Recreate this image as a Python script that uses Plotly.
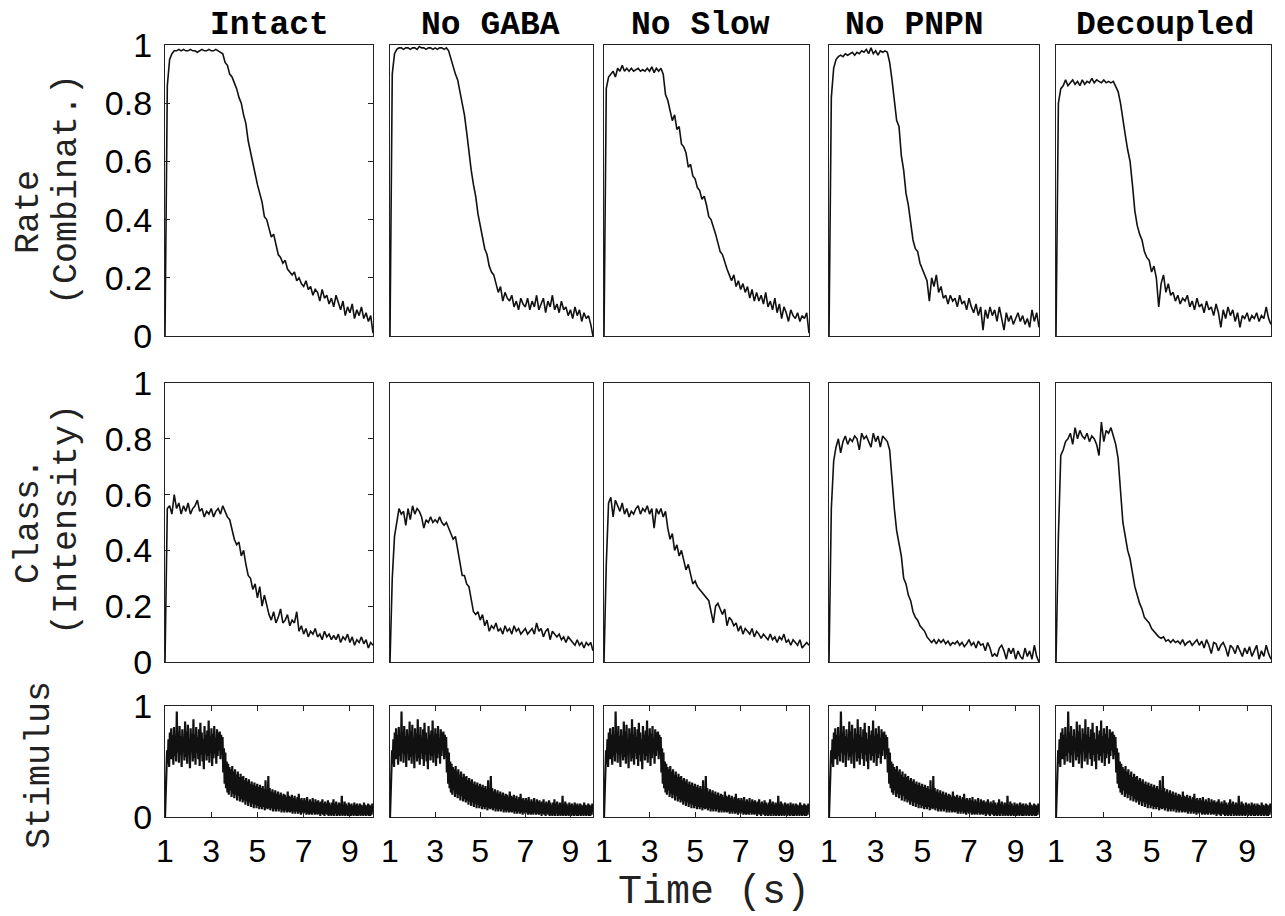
import plotly.graph_objects as go

# sampling grids (s)
TIME = [round(1 + 0.1 * i, 1) for i in range(91)]
STIM_TIME = [round(1 + 0.03 * i, 2) for i in range(301)]

PANELS = ["Intact", "No GABA", "No Slow", "No PNPN", "Decoupled"]

# row 1: Rate (Combinat.)
RATE_INTACT = [
    0.00, 0.86, 0.95, 0.97, 0.98, 0.98, 0.985, 0.98, 0.985, 0.98,
    0.98, 0.985, 0.98, 0.98, 0.975, 0.98, 0.985, 0.98, 0.98, 0.985,
    0.98, 0.98, 0.985, 0.98, 0.975, 0.97, 0.94, 0.93, 0.90, 0.89,
    0.87, 0.85, 0.82, 0.80, 0.76, 0.73, 0.67, 0.63, 0.60, 0.56,
    0.52, 0.49, 0.46, 0.41, 0.40, 0.37, 0.34, 0.35, 0.31, 0.28,
    0.27, 0.25, 0.26, 0.23, 0.22, 0.21, 0.22, 0.19, 0.20, 0.18,
    0.17, 0.19, 0.16, 0.17, 0.14, 0.16, 0.15, 0.12, 0.16, 0.13,
    0.14, 0.11, 0.13, 0.10, 0.14, 0.11, 0.09, 0.12, 0.07, 0.10,
    0.08, 0.11, 0.06, 0.09, 0.07, 0.10, 0.06, 0.08, 0.05, 0.07,
    0.01]
RATE_NO_GABA = [
    0.00, 0.90, 0.97, 0.985, 0.99, 0.99, 0.985, 0.99, 0.99, 0.985,
    0.99, 0.99, 0.985, 0.995, 0.99, 0.99, 0.985, 0.99, 0.99, 0.985,
    0.99, 0.985, 0.99, 0.99, 0.985, 0.99, 0.98, 0.95, 0.93, 0.90,
    0.88, 0.84, 0.79, 0.76, 0.70, 0.63, 0.57, 0.52, 0.48, 0.42,
    0.38, 0.34, 0.30, 0.28, 0.24, 0.22, 0.21, 0.18, 0.15, 0.17,
    0.12, 0.15, 0.13, 0.12, 0.14, 0.10, 0.12, 0.09, 0.13, 0.11,
    0.10, 0.13, 0.09, 0.12, 0.10, 0.14, 0.09, 0.11, 0.13, 0.08,
    0.12, 0.10, 0.14, 0.09, 0.11, 0.08, 0.12, 0.09, 0.10, 0.07,
    0.09, 0.06, 0.10, 0.07, 0.09, 0.05, 0.08, 0.06, 0.07, 0.04,
    0.00]
RATE_NO_SLOW = [
    0.00, 0.85, 0.89, 0.90, 0.91, 0.89, 0.92, 0.91, 0.93, 0.91,
    0.92, 0.91, 0.92, 0.91, 0.915, 0.92, 0.91, 0.915, 0.91, 0.92,
    0.91, 0.925, 0.905, 0.92, 0.91, 0.92, 0.90, 0.83, 0.81, 0.77,
    0.74, 0.76, 0.71, 0.72, 0.66, 0.65, 0.63, 0.58, 0.59, 0.55,
    0.54, 0.51, 0.50, 0.47, 0.48, 0.45, 0.41, 0.40, 0.37, 0.35,
    0.32, 0.29, 0.28, 0.25, 0.23, 0.21, 0.19, 0.21, 0.17, 0.19,
    0.16, 0.18, 0.15, 0.17, 0.13, 0.16, 0.12, 0.15, 0.12, 0.14,
    0.11, 0.15, 0.10, 0.12, 0.09, 0.13, 0.08, 0.11, 0.06, 0.10,
    0.08, 0.05, 0.09, 0.07, 0.06, 0.08, 0.05, 0.07, 0.06, 0.08,
    0.01]
RATE_NO_PNPN = [
    0.00, 0.82, 0.92, 0.95, 0.96, 0.965, 0.96, 0.97, 0.965, 0.97,
    0.975, 0.965, 0.975, 0.97, 0.98, 0.975, 0.985, 0.97, 0.99, 0.97,
    0.98, 0.965, 0.98, 0.975, 0.98, 0.975, 0.94, 0.88, 0.80, 0.74,
    0.72, 0.62, 0.57, 0.49, 0.45, 0.38, 0.33, 0.30, 0.29, 0.25,
    0.23, 0.21, 0.19, 0.12, 0.20, 0.17, 0.21, 0.15, 0.17, 0.13,
    0.14, 0.11, 0.14, 0.12, 0.13, 0.10, 0.14, 0.11, 0.12, 0.09,
    0.13, 0.10, 0.08, 0.11, 0.07, 0.10, 0.02, 0.09, 0.06, 0.10,
    0.07, 0.09, 0.05, 0.10, 0.06, 0.02, 0.08, 0.05, 0.07, 0.04,
    0.06, 0.08, 0.05, 0.07, 0.04, 0.06, 0.03, 0.09, 0.05, 0.08,
    0.03]
RATE_DECOUPLED = [
    0.00, 0.80, 0.85, 0.86, 0.88, 0.86, 0.87, 0.88, 0.865, 0.875,
    0.86, 0.88, 0.865, 0.875, 0.87, 0.885, 0.87, 0.88, 0.875, 0.87,
    0.88, 0.87, 0.875, 0.87, 0.875, 0.86, 0.84, 0.80, 0.74, 0.69,
    0.64, 0.60, 0.52, 0.43, 0.38, 0.35, 0.33, 0.29, 0.27, 0.26,
    0.22, 0.24, 0.20, 0.10, 0.18, 0.21, 0.15, 0.18, 0.14, 0.15,
    0.12, 0.14, 0.11, 0.13, 0.12, 0.14, 0.10, 0.12, 0.09, 0.13,
    0.10, 0.11, 0.08, 0.12, 0.09, 0.10, 0.07, 0.11, 0.08, 0.03,
    0.09, 0.06, 0.10, 0.07, 0.09, 0.05, 0.08, 0.03, 0.07, 0.06,
    0.08, 0.05, 0.07, 0.06, 0.08, 0.05, 0.07, 0.06, 0.10, 0.06,
    0.04]

# row 2: Class. (Intensity)
CLASS_INTACT = [
    0.00, 0.55, 0.56, 0.53, 0.60, 0.55, 0.57, 0.53, 0.56, 0.54,
    0.57, 0.53, 0.55, 0.56, 0.58, 0.54, 0.55, 0.52, 0.54, 0.53,
    0.55, 0.52, 0.54, 0.55, 0.53, 0.56, 0.54, 0.52, 0.51, 0.47,
    0.44, 0.42, 0.43, 0.38, 0.40, 0.35, 0.31, 0.30, 0.26, 0.28,
    0.23, 0.27, 0.20, 0.24, 0.20, 0.17, 0.15, 0.18, 0.14, 0.16,
    0.19, 0.14, 0.15, 0.17, 0.13, 0.15, 0.14, 0.18, 0.11, 0.13,
    0.10, 0.12, 0.09, 0.11, 0.10, 0.12, 0.09, 0.10, 0.08, 0.11,
    0.09, 0.10, 0.08, 0.095, 0.08, 0.10, 0.07, 0.09, 0.08, 0.10,
    0.07, 0.09, 0.06, 0.08, 0.07, 0.09, 0.065, 0.08, 0.05, 0.07,
    0.06]
CLASS_NO_GABA = [
    0.00, 0.30, 0.45, 0.50, 0.55, 0.53, 0.54, 0.49, 0.55, 0.51,
    0.56, 0.53, 0.55, 0.54, 0.52, 0.48, 0.51, 0.50, 0.52, 0.50,
    0.51, 0.50, 0.52, 0.50, 0.49, 0.50, 0.48, 0.46, 0.44, 0.45,
    0.40, 0.36, 0.31, 0.31, 0.28, 0.27, 0.22, 0.18, 0.17, 0.18,
    0.15, 0.17, 0.13, 0.15, 0.11, 0.13, 0.12, 0.14, 0.11, 0.12,
    0.10, 0.13, 0.11, 0.12, 0.10, 0.13, 0.11, 0.12, 0.10, 0.11,
    0.12, 0.10, 0.11, 0.12, 0.10, 0.14, 0.11, 0.12, 0.09, 0.11,
    0.12, 0.08, 0.11, 0.10, 0.09, 0.10, 0.08, 0.09, 0.07, 0.09,
    0.08, 0.07, 0.06, 0.08, 0.06, 0.07, 0.05, 0.07, 0.06, 0.07,
    0.04]
CLASS_NO_SLOW = [
    0.00, 0.35, 0.57, 0.59, 0.52, 0.58, 0.56, 0.54, 0.57, 0.53,
    0.55, 0.52, 0.54, 0.53, 0.55, 0.56, 0.53, 0.55, 0.54, 0.56,
    0.53, 0.55, 0.48, 0.55, 0.53, 0.55, 0.52, 0.54, 0.48, 0.44,
    0.46, 0.40, 0.42, 0.38, 0.40, 0.36, 0.33, 0.35, 0.31, 0.28,
    0.29, 0.27, 0.26, 0.25, 0.24, 0.23, 0.22, 0.18, 0.14, 0.20,
    0.21, 0.19, 0.17, 0.19, 0.13, 0.16, 0.15, 0.13, 0.14, 0.11,
    0.13, 0.10, 0.12, 0.11, 0.10, 0.12, 0.09, 0.11, 0.10, 0.085,
    0.10, 0.09, 0.08, 0.10, 0.08, 0.09, 0.07, 0.09, 0.08, 0.10,
    0.07, 0.08, 0.06, 0.08, 0.07, 0.06, 0.08, 0.05, 0.06, 0.07,
    0.06]
CLASS_NO_PNPN = [
    0.00, 0.55, 0.72, 0.77, 0.80, 0.75, 0.79, 0.81, 0.78, 0.80,
    0.79, 0.81, 0.80, 0.76, 0.82, 0.80, 0.81, 0.79, 0.77, 0.82,
    0.79, 0.81, 0.77, 0.81, 0.80, 0.79, 0.76, 0.64, 0.55, 0.47,
    0.43, 0.38, 0.30, 0.28, 0.24, 0.22, 0.18, 0.16, 0.15, 0.13,
    0.12, 0.11, 0.09, 0.08, 0.07, 0.08, 0.065, 0.08, 0.07, 0.08,
    0.065, 0.075, 0.06, 0.07, 0.065, 0.075, 0.06, 0.07, 0.055, 0.065,
    0.08, 0.06, 0.07, 0.05, 0.075, 0.06, 0.065, 0.04, 0.07, 0.05,
    0.02, 0.03, 0.02, 0.05, 0.06, 0.04, 0.01, 0.05, 0.03, 0.05,
    0.01, 0.04, 0.02, 0.01, 0.05, 0.02, 0.04, 0.01, 0.06, 0.02,
    0.00]
CLASS_DECOUPLED = [
    0.00, 0.45, 0.74, 0.76, 0.79, 0.80, 0.82, 0.78, 0.84, 0.80,
    0.83, 0.81, 0.80, 0.82, 0.79, 0.81, 0.80, 0.78, 0.74, 0.86,
    0.79, 0.83, 0.82, 0.84, 0.81, 0.78, 0.73, 0.60, 0.50, 0.45,
    0.40, 0.37, 0.32, 0.27, 0.24, 0.21, 0.19, 0.16, 0.15, 0.14,
    0.12, 0.11, 0.10, 0.09, 0.085, 0.09, 0.075, 0.08, 0.07, 0.08,
    0.07, 0.075, 0.065, 0.08, 0.06, 0.07, 0.075, 0.06, 0.07, 0.08,
    0.06, 0.075, 0.05, 0.08, 0.06, 0.03, 0.07, 0.065, 0.04, 0.06,
    0.07, 0.05, 0.02, 0.06, 0.05, 0.03, 0.06, 0.04, 0.02, 0.05,
    0.03, 0.055, 0.02, 0.04, 0.06, 0.01, 0.04, 0.02, 0.06, 0.03,
    0.01]

# row 3: stimulus intensity (same odour pulse in every column)
STIMULUS = [
    0.00, 0.25, 0.45, 0.60, 0.48, 0.70, 0.45, 0.76, 0.52, 0.80,
    0.52, 0.74, 0.47, 0.81, 0.55, 0.70, 0.50, 0.95, 0.58, 0.76,
    0.49, 0.82, 0.56, 0.73, 0.45, 0.79, 0.60, 0.71, 0.51, 0.86,
    0.54, 0.77, 0.48, 0.83, 0.57, 0.69, 0.44, 0.80, 0.59, 0.75,
    0.50, 0.88, 0.53, 0.74, 0.47, 0.81, 0.58, 0.72, 0.52, 0.79,
    0.46, 0.85, 0.56, 0.76, 0.50, 0.70, 0.43, 0.82, 0.57, 0.74,
    0.51, 0.78, 0.55, 0.87, 0.49, 0.73, 0.58, 0.80, 0.46, 0.75,
    0.53, 0.82, 0.57, 0.71, 0.48, 0.79, 0.55, 0.76, 0.60, 0.77,
    0.52, 0.74, 0.56, 0.72, 0.40, 0.62, 0.30, 0.58, 0.26, 0.50,
    0.22, 0.48, 0.20, 0.45, 0.24, 0.43, 0.18, 0.46, 0.21, 0.41,
    0.17, 0.43, 0.20, 0.38, 0.15, 0.41, 0.19, 0.36, 0.14, 0.39,
    0.16, 0.36, 0.13, 0.37, 0.15, 0.33, 0.11, 0.35, 0.14, 0.32,
    0.10, 0.34, 0.13, 0.30, 0.09, 0.32, 0.12, 0.29, 0.08, 0.31,
    0.11, 0.28, 0.08, 0.30, 0.10, 0.27, 0.07, 0.29, 0.09, 0.26,
    0.07, 0.28, 0.09, 0.25, 0.06, 0.33, 0.08, 0.24, 0.07, 0.37,
    0.08, 0.26, 0.06, 0.23, 0.08, 0.25, 0.05, 0.22, 0.07, 0.24,
    0.05, 0.21, 0.07, 0.23, 0.05, 0.20, 0.07, 0.22, 0.04, 0.19,
    0.06, 0.21, 0.04, 0.20, 0.06, 0.18, 0.04, 0.23, 0.05, 0.19,
    0.04, 0.18, 0.05, 0.20, 0.03, 0.17, 0.05, 0.19, 0.03, 0.16,
    0.05, 0.18, 0.03, 0.21, 0.04, 0.16, 0.02, 0.17, 0.04, 0.15,
    0.03, 0.17, 0.04, 0.15, 0.02, 0.18, 0.03, 0.14, 0.02, 0.16,
    0.03, 0.14, 0.02, 0.17, 0.04, 0.13, 0.02, 0.16, 0.03, 0.14,
    0.02, 0.15, 0.03, 0.13, 0.01, 0.14, 0.03, 0.16, 0.02, 0.12,
    0.01, 0.14, 0.03, 0.12, 0.02, 0.15, 0.01, 0.13, 0.02, 0.11,
    0.01, 0.13, 0.02, 0.16, 0.01, 0.12, 0.03, 0.14, 0.01, 0.11,
    0.02, 0.13, 0.01, 0.12, 0.02, 0.19, 0.01, 0.11, 0.02, 0.14,
    0.01, 0.12, 0.02, 0.10, 0.01, 0.13, 0.02, 0.11, 0.01, 0.12,
    0.02, 0.10, 0.01, 0.13, 0.02, 0.11, 0.01, 0.12, 0.01, 0.10,
    0.02, 0.12, 0.01, 0.11, 0.02, 0.10, 0.01, 0.13, 0.02, 0.11,
    0.01, 0.10, 0.02, 0.12, 0.01, 0.11, 0.01, 0.10, 0.02, 0.12,
    0.04]

RATE = [RATE_INTACT, RATE_NO_GABA, RATE_NO_SLOW, RATE_NO_PNPN, RATE_DECOUPLED]
CLASS = [CLASS_INTACT, CLASS_NO_GABA, CLASS_NO_SLOW, CLASS_NO_PNPN, CLASS_DECOUPLED]

W, H = 1285, 916
PAGE_PAD = 8  # the page body margin shifts the figure by this much
COL_PX = [(165, 373), (390, 593), (604, 809), (829, 1039), (1056, 1271)]
ROW_PX = [(45, 336), (383, 662), (706, 817)]
TITLE_X = [269, 490, 700, 914, 1165]

MONO = "Liberation Mono, Courier New, monospace"
SANS = "Liberation Sans, Arial, Helvetica, sans-serif"
INK = "#111111"


def px_x(px):
    return (px - PAGE_PAD) / W


def px_y(py):
    return 1 - (py - PAGE_PAD) / H


def axis_names(k):
    s = "" if k == 1 else str(k)
    return "x" + s, "y" + s, "xaxis" + s, "yaxis" + s


fig = go.Figure()
layout = {}

for r in range(3):
    for c in range(5):
        k = r * 5 + c + 1
        xr, yr, xname, yname = axis_names(k)
        if r < 2:
            x, y = TIME, (RATE if r == 0 else CLASS)[c]
            width = 1.6
        else:
            x, y = STIM_TIME, STIMULUS
            width = 2.2
        fig.add_trace(go.Scatter(x=x, y=y, xaxis=xr, yaxis=yr, mode="lines",
                                 line=dict(color=INK, width=width),
                                 hoverinfo="skip", showlegend=False))

        x0, x1 = COL_PX[c]
        y0, y1 = ROW_PX[r]
        xa = dict(domain=[px_x(x0), px_x(x1)], range=[1, 10], anchor=yr,
                  showline=True, linecolor="#222", linewidth=1.3, mirror=True,
                  showgrid=False, zeroline=False, fixedrange=True,
                  tickfont=dict(family=SANS, size=32, color="black"))
        ya = dict(domain=[px_y(y1), px_y(y0)], range=[0, 1], anchor=xr,
                  showline=True, linecolor="#222", linewidth=1.3, mirror=True,
                  showgrid=False, zeroline=False, fixedrange=True,
                  tickfont=dict(family=SANS, size=34, color="black"))
        if r == 2:
            xa.update(ticks="inside", ticklen=5, tickcolor="#222", mirror="ticks",
                      tickvals=[1, 3, 5, 7, 9], ticktext=["1", "3", "5", "7", "9"],
                      ticklabelstandoff=5)
        else:
            xa.update(ticks="", showticklabels=False)
        if c == 0:
            if r < 2:
                ya.update(tickvals=[0, 0.2, 0.4, 0.6, 0.8, 1],
                          ticktext=["0", "0.2", "0.4", "0.6", "0.8", "1"],
                          ticks="inside", ticklen=5, tickcolor="#222", mirror="ticks")
            else:
                ya.update(tickvals=[0, 1], ticktext=["0", "1"], ticks="")
            ya.update(ticklabelstandoff=5)
        else:
            ya.update(ticks="", showticklabels=False)
        layout[xname] = xa
        layout[yname] = ya

annotations = []
for c, name in enumerate(PANELS):
    annotations.append(dict(text="<b>" + name + "</b>", x=px_x(TITLE_X[c]), y=px_y(26),
                            xref="paper", yref="paper", showarrow=False,
                            xanchor="center", yanchor="middle",
                            font=dict(family=MONO, size=33, color="black")))

# rotated row labels (text, x px, y px)
ROW_LABELS = [("Rate", 29, 212), ("(Combinat.)", 67, 190),
              ("Class.", 29, 521), ("(Intensity)", 67, 520),
              ("Stimulus", 40, 765)]
for text, px, py in ROW_LABELS:
    annotations.append(dict(text=text, x=px_x(px), y=px_y(py), xref="paper", yref="paper",
                            showarrow=False, textangle=-90, xanchor="center", yanchor="middle",
                            font=dict(family=MONO, size=35, color="#222")))

annotations.append(dict(text="Time (s)", x=px_x(714), y=px_y(892), xref="paper", yref="paper",
                        showarrow=False, xanchor="center", yanchor="middle",
                        font=dict(family=MONO, size=40, color="#222")))

fig.update_layout(**layout)
fig.update_layout(width=W, height=H,
                  margin=dict(l=0, r=0, t=0, b=0, autoexpand=False),
                  paper_bgcolor="white", plot_bgcolor="white",
                  annotations=annotations)

fig.write_html("out.html")
